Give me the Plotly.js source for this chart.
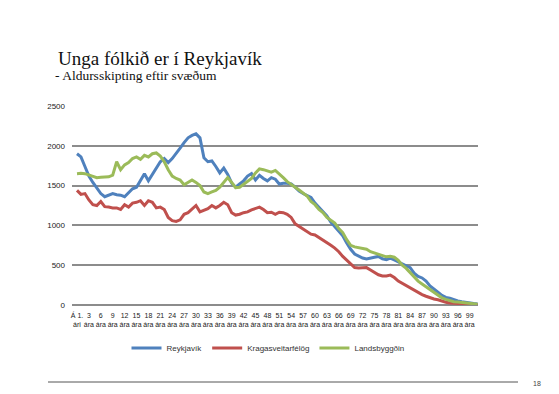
<!DOCTYPE html>
<html>
<head>
<meta charset="utf-8">
<script src="https://cdn.plot.ly/plotly-3.0.1.min.js"></script>
<style>html,body{margin:0;padding:0;background:#fff;}#chart{width:559px;height:394px;}</style>
</head>
<body>
<div id="chart"></div>
<script>
// Ages 0..101 (category index)
const ages = Array.from({length: 102}, (_, i) => i);

const reykjavik = [
1900,1860,1740,1620,1540,1470,1400,1360,1380,1400,
1385,1380,1360,1410,1460,1480,1560,1650,1560,1640,
1730,1800,1840,1790,1840,1900,1970,2040,2100,2130,
2150,2100,1850,1800,1810,1740,1660,1720,1640,1530,
1480,1520,1560,1620,1650,1570,1630,1590,1560,1600,
1580,1520,1530,1530,1520,1480,1430,1400,1370,1350,
1280,1230,1180,1120,1040,980,930,870,780,700,
640,610,590,578,585,600,610,580,570,590,
565,540,510,490,470,400,360,340,300,240,
195,160,120,95,85,65,50,40,30,25,
18,12];

const kraga = [
1440,1390,1400,1320,1260,1250,1300,1235,1230,1220,
1220,1200,1260,1230,1280,1290,1310,1250,1310,1290,
1220,1230,1200,1100,1060,1050,1070,1140,1160,1200,
1250,1170,1190,1210,1250,1220,1250,1290,1260,1160,
1130,1140,1160,1170,1195,1210,1230,1200,1160,1165,
1140,1165,1160,1140,1100,1020,990,950,920,890,
880,850,820,780,750,715,670,610,560,510,
470,465,470,470,440,410,380,365,365,375,
345,300,270,245,215,180,155,130,110,90,
75,65,45,35,25,22,18,12,10,8,
6,4];

const landsbyggd = [
1650,1655,1650,1630,1610,1600,1605,1605,1610,1630,
1800,1700,1760,1790,1840,1860,1830,1880,1860,1900,
1910,1870,1800,1700,1620,1590,1570,1510,1540,1570,
1540,1500,1420,1400,1420,1440,1480,1540,1600,1540,
1475,1480,1520,1550,1590,1660,1710,1700,1680,1670,
1690,1650,1600,1550,1520,1480,1445,1410,1370,1300,
1260,1200,1160,1100,1060,1030,960,910,820,750,
730,720,715,700,670,655,640,620,605,612,
600,560,500,460,410,350,300,265,230,190,
155,120,90,70,55,42,38,32,25,22,
15,10];

const tickVals = [];
const tickText = [];
for (let a = 0; a <= 99; a += 3) {
  tickVals.push(a);
  tickText.push(a === 0 ? 'Á 1.<br>ári' : a + '<br>ára');
}

const traces = [
  {x: ages, y: reykjavik, name: 'Reykjavík', type: 'scatter', mode: 'lines',
   line: {color: '#4F81BD', width: 3}},
  {x: ages, y: kraga, name: 'Kragasveitarfélög', type: 'scatter', mode: 'lines',
   line: {color: '#C0504D', width: 3}},
  {x: ages, y: landsbyggd, name: 'Landsbyggðin', type: 'scatter', mode: 'lines',
   line: {color: '#9BBB59', width: 3}}
];

const PL = 72, PR = 478, PT = 106, PB = 305;
const px = v => (v - PL) / (PR - PL);
const py = v => (PB - v) / (PB - PT);

const layout = {
  width: 559, height: 394,
  margin: {l: PL, r: 559 - PR, t: PT, b: 394 - PB, pad: 0},
  paper_bgcolor: '#ffffff', plot_bgcolor: '#ffffff',
  showlegend: true,
  font: {family: 'Liberation Sans, Arial, sans-serif', color: '#222'},
  xaxis: {
    range: [-1.26, 101.1], tickvals: tickVals, ticktext: tickText,
    showgrid: false, zeroline: false, showline: false, ticks: '',
    ticklabelstandoff: 5,
    tickangle: 0, tickfont: {size: 7, color: '#222'}, fixedrange: true
  },
  yaxis: {
    range: [0, 2500], tickvals: [0, 500, 1000, 1500, 2000, 2500],
    showgrid: true, gridcolor: '#8C8C8C', gridwidth: 2,
    zeroline: true, zerolinecolor: '#8C8C8C', zerolinewidth: 2,
    showline: false, ticks: '', ticklabelstandoff: 6,
    tickfont: {size: 8, color: '#222'}, fixedrange: true
  },
  legend: {
    orientation: 'h', x: px(268), xanchor: 'center', y: py(348), yanchor: 'middle',
    font: {size: 8, color: '#333'}, itemwidth: 30, bgcolor: 'rgba(0,0,0,0)'
  },
  annotations: [
    {text: 'Unga fólkið er í Reykjavík', xref: 'paper', yref: 'paper',
     x: px(56), y: py(58), xanchor: 'left', yanchor: 'middle', showarrow: false,
     font: {family: 'Liberation Serif, DejaVu Serif, serif', size: 19, color: '#111'}},
    {text: '- Aldursskipting eftir svæðum', xref: 'paper', yref: 'paper',
     x: px(53), y: py(75), xanchor: 'left', yanchor: 'middle', showarrow: false,
     font: {family: 'Liberation Serif, DejaVu Serif, serif', size: 13.5, color: '#111'}},
    {text: '18', xref: 'paper', yref: 'paper',
     x: px(537), y: py(383), xanchor: 'center', yanchor: 'middle', showarrow: false,
     font: {size: 7, color: '#444'}}
  ],
  shapes: [
    {type: 'line', xref: 'paper', yref: 'paper', x0: px(48), x1: px(518), y0: py(382), y1: py(382),
     line: {color: '#555555', width: 1}}
  ]
};

Plotly.newPlot('chart', traces, layout, {displayModeBar: false, staticPlot: true});
</script>
</body>
</html>
